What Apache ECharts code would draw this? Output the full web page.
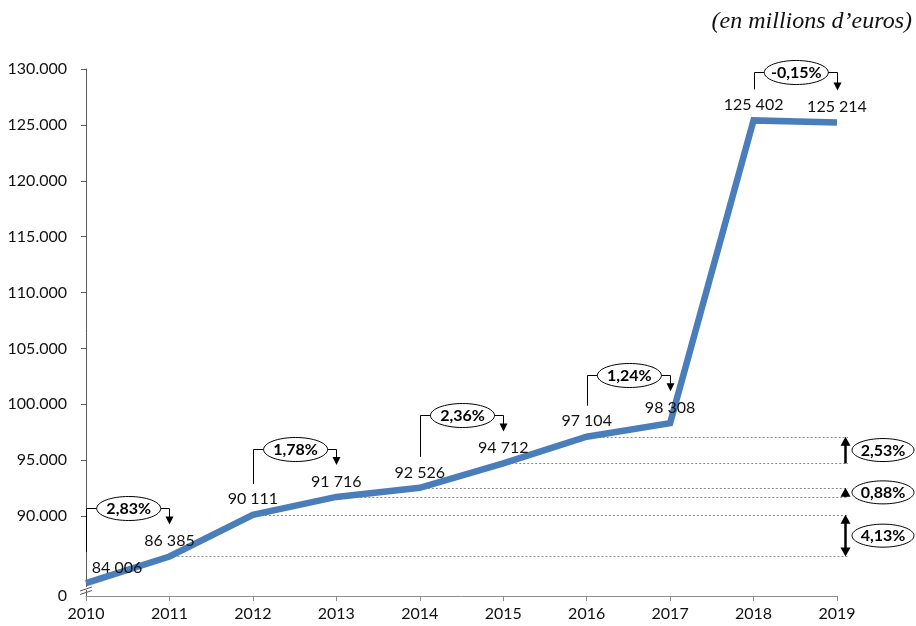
<!DOCTYPE html>
<html>
<head>
<meta charset="utf-8">
<script src="https://cdn.jsdelivr.net/npm/echarts@6/dist/echarts.min.js"></script>
<style>
html,body{margin:0;padding:0;background:#fff;}
#chart{width:916px;height:626px;}
</style>
</head>
<body>
<div id="chart"></div>
<script>
// ---- data ----
const years = ['2010','2011','2012','2013','2014','2015','2016','2017','2018','2019'];
const values = [84006, 86385, 90111, 91716, 92526, 94712, 97104, 98308, 125402, 125214];
const yTickValues = [90000, 95000, 100000, 105000, 110000, 115000, 120000, 125000, 130000];
const yBreakValue = 82850;           // bottom of the broken axis, labelled "0"
const yBreakLabel = '0';
const growthPairs = [[0,1],[2,3],[4,5],[6,7],[8,9]];
const growthLabels = ['2,83%','1,78%','2,36%','1,24%','-0,15%'];
const sidePairs = [[1,2],[3,4],[5,6]];
const sideLabels = ['4,13%','0,88%','2,53%'];
const guideIdx = [1,2,3,4,5,6];
const unitTitle = '(en millions d\u2019euros)';

const FONT = 'Lato, "Open Sans", sans-serif';
const fmtThousand = v => String(v).replace(/\B(?=(\d{3})+(?!\d))/g, ' ');
const fmtAxis = v => v === yBreakValue ? yBreakLabel : String(v).replace(/\B(?=(\d{3})+(?!\d))/g, '.');

const chart = echarts.init(document.getElementById('chart'), null, {renderer:'canvas'});

chart.setOption({
  animation: false,
  backgroundColor: '#fff',
  grid: {left: 86, right: 79, top: 69, bottom: 30},
  xAxis: {
    type: 'category',
    data: years,
    boundaryGap: false,
    axisLine: {lineStyle: {color: '#8c8c8c', width: 1}},
    axisTick: {show: true, length: 5, lineStyle: {color: '#8c8c8c'}},
    axisLabel: {color: '#111', fontFamily: FONT, fontSize: 16, margin: 10},
    splitLine: {show: false}
  },
  yAxis: {
    type: 'value',
    min: yBreakValue,
    max: 130000,
    axisLine: {show: true, lineStyle: {color: '#5a5a5a', width: 1}},
    axisTick: {show: true, length: 5, customValues: yTickValues, lineStyle: {color: '#5a5a5a'}},
    axisLabel: {color: '#111', fontFamily: FONT, fontSize: 16, margin: 19,
      customValues: [yBreakValue].concat(yTickValues), formatter: fmtAxis},
    splitLine: {show: false}
  },
  series: [{
    type: 'line',
    showSymbol: true,
    symbol: 'circle',
    symbolSize: 1,
    itemStyle: {color: 'rgba(0,0,0,0)'},
    z: 5,
    lineStyle: {color: '#4a7ebb', width: 6.5, cap: 'butt', join: 'miter'},
    label: {
      show: true, position: 'top', distance: 7,
      color: '#111', fontFamily: FONT, fontSize: 16,
      formatter: p => fmtThousand(p.value)
    },
    labelLayout: p => p.dataIndex === 0 ? {dx: 31, hideOverlap: false} : {hideOverlap: false},
    data: values
  }]
});

function px(i) { return chart.convertToPixel({seriesIndex: 0}, [i, values[i]]); }

const g = [];
const line = (x1,y1,x2,y2,opt) => g.push(Object.assign({type:'line', silent:true,
  shape:{x1,y1,x2,y2}, style:{stroke:'#000', lineWidth:1}}, opt||{}));
const tri = (points, z) => g.push({type:'polygon', silent:true, z: z||10, shape:{points}, style:{fill:'#000'}});
const bubble = (cx, cy, rx, ry, text) => {
  g.push({type:'ellipse', silent:true, z:10, shape:{cx, cy, rx, ry}, style:{fill:'#fff', stroke:'#000', lineWidth:1}});
  g.push({type:'text', silent:true, z:11, x: cx, y: cy + 0.5, style:{text, align:'center', verticalAlign:'middle',
    font: 'bold 16px ' + FONT, fill:'#000'}});
};

// dotted guide lines
const rightX = chart.convertToPixel({xAxisIndex:0}, years.length - 1);
guideIdx.forEach(i => {
  const p = px(i);
  line(p[0], Math.round(p[1]) + 0.5, rightX + 11, Math.round(p[1]) + 0.5,
    {z: 1, style:{stroke:'#8a8a8a', lineWidth:1, lineDash:[2,2]}});
});

// growth callouts between consecutive years
growthPairs.forEach((pr, k) => {
  const a = px(pr[0]), b = px(pr[1]);
  const yb = Math.round(Math.min(a[1], b[1]) - 48) + 0.5;
  const xa = Math.round(a[0]) + 0.5, xbp = Math.round(b[0]) + 0.5;
  const cx = (a[0] + b[0]) / 2 + 1;
  line(xa, a[1] - 31, xa, yb, {z:9});
  line(xa, yb, cx - 31, yb, {z:9});
  line(cx + 31, yb, xbp, yb, {z:9});
  const tip = b[1] - 32;
  line(xbp, yb, xbp, tip - 7, {z:9});
  tri([[xbp - 4, tip - 8], [xbp + 4, tip - 8], [xbp, tip]]);
  bubble(cx, yb, 32, 12, growthLabels[k]);
});

// side variation arrows
sidePairs.forEach((pr, k) => {
  const lo = px(pr[0])[1], hi = px(pr[1])[1];
  const ax = rightX + 8.5;
  const both = k === 0;
  const headH = 9, headW = 5;
  const shaftTop = hi + headH - 1, shaftBot = both ? lo - headH + 1 : lo;
  if (shaftBot > shaftTop) line(ax, shaftTop, ax, shaftBot, {z:9, style:{stroke:'#000', lineWidth:2.5}});
  tri([[ax - headW, hi + headH], [ax + headW, hi + headH], [ax, hi]]);
  if (both) tri([[ax - headW, lo - headH], [ax + headW, lo - headH], [ax, lo]]);
  bubble(rightX + 46, (lo + hi) / 2, 31, 11.5, sideLabels[k]);
});

// axis break marks
const bottomY = chart.convertToPixel({yAxisIndex:0}, yBreakValue);
const leftX = chart.convertToPixel({xAxisIndex:0}, 0);
g.push({type:'rect', silent:true, z:20, shape:{x:leftX - 2, y:bottomY - 9, width:4, height:3}, style:{fill:'#fff'}});
line(leftX - 6, bottomY - 5, leftX + 6, bottomY - 9, {z:21, style:{stroke:'#5a5a5a', lineWidth:1}});
line(leftX - 6, bottomY - 1.5, leftX + 6, bottomY - 5.5, {z:21, style:{stroke:'#5a5a5a', lineWidth:1}});

// unit title
g.push({type:'text', silent:true, z:10, x: 912, y: 22, style:{text: unitTitle, align:'right', verticalAlign:'middle',
  font: 'italic 24px "Liberation Serif", serif', fill:'#111'}});

chart.setOption({graphic: g});
</script>
</body>
</html>
